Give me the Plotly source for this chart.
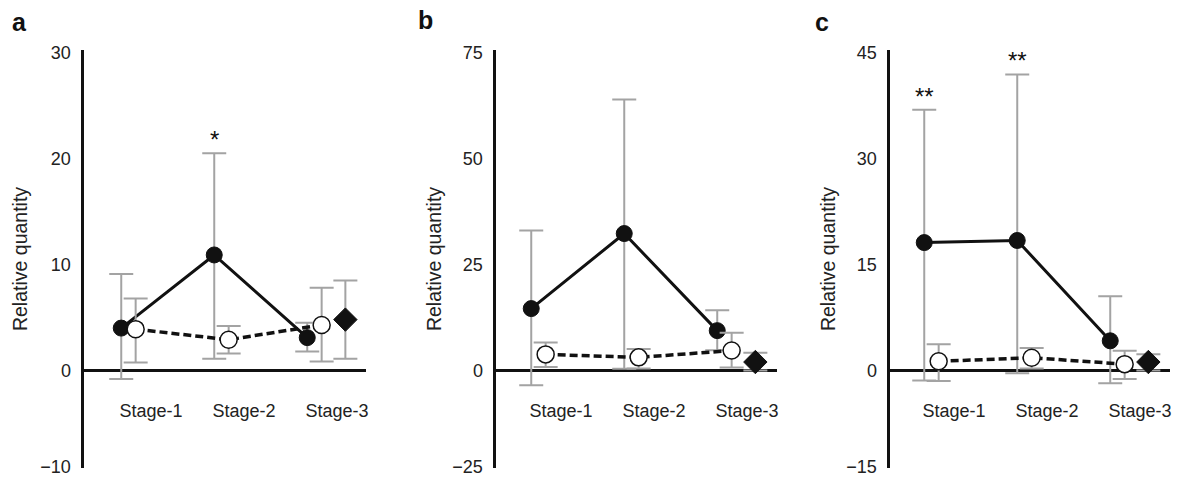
import plotly.graph_objects as go

# ---------------- data ----------------
stages = ["Stage-1", "Stage-2", "Stage-3"]

# panel a
a_filled = [4.0, 10.9, 3.1]
a_filled_hi = [9.1, 20.5, 4.5]
a_filled_lo = [-0.8, 1.1, 1.8]
a_open = [3.9, 2.9, 4.3]
a_open_hi = [6.8, 4.2, 7.8]
a_open_lo = [0.75, 1.6, 0.85]
a_diamond = [4.8]
a_diamond_hi = [8.5]
a_diamond_lo = [1.1]
a_ticks = ["−10", "0", "10", "20", "30"]
a_tickvals = [-10, 0, 10, 20, 30]
a_stars = ["", "*", ""]

# panel b
b_filled = [14.6, 32.3, 9.4]
b_filled_hi = [33.0, 63.9, 14.2]
b_filled_lo = [-3.5, 0.4, 4.8]
b_open = [3.8, 3.1, 4.7]
b_open_hi = [6.6, 5.1, 8.9]
b_open_lo = [0.8, 0.5, 0.7]
b_diamond = [2.0]
b_diamond_hi = [4.2]
b_diamond_lo = [0.0]
b_ticks = ["−25", "0", "25", "50", "75"]
b_tickvals = [-25, 0, 25, 50, 75]
b_stars = ["", "", ""]

# panel c
c_filled = [18.1, 18.4, 4.2]
c_filled_hi = [36.9, 41.9, 10.5]
c_filled_lo = [-1.4, -0.4, -1.8]
c_open = [1.3, 1.8, 0.9]
c_open_hi = [3.7, 3.2, 2.8]
c_open_lo = [-1.5, 0.3, -1.2]
c_diamond = [1.2]
c_diamond_hi = [2.3]
c_diamond_lo = [0.0]
c_ticks = ["−15", "0", "15", "30", "45"]
c_tickvals = [-15, 0, 15, 30, 45]
c_stars = ["**", "**", ""]

panel_letters = ["a", "b", "c"]

# ---------------- style / layout ----------------
FONT = "Liberation Sans, Arial, Helvetica, sans-serif"
W, H = 1180, 478
BLACK = "#111111"
GREY = "#a3a3a3"
FILLED_OFF, OPEN_OFF, DIAMOND_OFF = -0.32, -0.165, 0.09

# pixel geometry of each panel (left edge, right edge, px at x=1)
px_geo = [(83.5, 366, 151), (495.5, 777, 561), (889.5, 1170, 954)]
letter_px = [(19, 22), (425, 20), (822, 22)]
title_standoff = [8, 6, 6]
PX_PER_UNIT_X = 93.0
Y_TOP_PX, Y_BOT_PX, Y_ZERO_PX = 50, 468, 370.5
PX_PER_STEP = 106.0

panels = [
    dict(f=a_filled, fh=a_filled_hi, fl=a_filled_lo, o=a_open, oh=a_open_hi, ol=a_open_lo,
         d=a_diamond, dh=a_diamond_hi, dl=a_diamond_lo, tt=a_ticks, tv=a_tickvals, stars=a_stars),
    dict(f=b_filled, fh=b_filled_hi, fl=b_filled_lo, o=b_open, oh=b_open_hi, ol=b_open_lo,
         d=b_diamond, dh=b_diamond_hi, dl=b_diamond_lo, tt=b_ticks, tv=b_tickvals, stars=b_stars),
    dict(f=c_filled, fh=c_filled_hi, fl=c_filled_lo, o=c_open, oh=c_open_hi, ol=c_open_lo,
         d=c_diamond, dh=c_diamond_hi, dl=c_diamond_lo, tt=c_ticks, tv=c_tickvals, stars=c_stars),
]


def plus(v, hi):
    return [h - x for x, h in zip(v, hi)]


def minus(v, lo):
    return [x - l for x, l in zip(v, lo)]


fig = go.Figure()
annotations = []
idx = [1, 2, 3]
ydom = [(H - Y_BOT_PX) / H, (H - Y_TOP_PX) / H]

for k, p in enumerate(panels):
    s = "" if k == 0 else str(k + 1)
    xa, ya = "x" + s, "y" + s
    step = p["tv"][2] - p["tv"][1]
    upp = step / PX_PER_STEP  # units per pixel
    y_top = (Y_ZERO_PX - Y_TOP_PX) * upp
    y_bot = -(Y_BOT_PX - Y_ZERO_PX) * upp
    tickvals = [y_bot + 0.01 * step] + p["tv"][1:]

    left, right, x1 = px_geo[k]
    x_lo = 1 - (x1 - left) / PX_PER_UNIT_X
    x_hi = 1 + (right - x1) / PX_PER_UNIT_X

    xf = [i + FILLED_OFF for i in idx]
    xo = [i + OPEN_OFF for i in idx]
    xd = [3 + DIAMOND_OFF]

    fig.add_trace(go.Scatter(
        x=xf, y=p["f"], mode="lines+markers", xaxis=xa, yaxis=ya, showlegend=False,
        line=dict(color=BLACK, width=3),
        marker=dict(size=16, color=BLACK, line=dict(color=BLACK, width=1)),
        error_y=dict(type="data", symmetric=False, array=plus(p["f"], p["fh"]),
                     arrayminus=minus(p["f"], p["fl"]), color=GREY, thickness=2, width=12)))
    fig.add_trace(go.Scatter(
        x=xo, y=p["o"], mode="lines+markers", xaxis=xa, yaxis=ya, showlegend=False,
        line=dict(color=BLACK, width=3.5, dash="8px,4px"),
        marker=dict(size=17, color="white", line=dict(color=BLACK, width=1.5)),
        error_y=dict(type="data", symmetric=False, array=plus(p["o"], p["oh"]),
                     arrayminus=minus(p["o"], p["ol"]), color=GREY, thickness=2, width=12)))
    fig.add_trace(go.Scatter(
        x=xd, y=p["d"], mode="markers", xaxis=xa, yaxis=ya, showlegend=False,
        marker=dict(size=18, color=BLACK, symbol="diamond", line=dict(color=BLACK, width=1)),
        error_y=dict(type="data", symmetric=False, array=plus(p["d"], p["dh"]),
                     arrayminus=minus(p["d"], p["dl"]), color=GREY, thickness=2, width=12)))

    for i, st in enumerate(p["stars"]):
        if st:
            annotations.append(dict(x=xf[i], y=p["fh"][i], xref=xa, yref=ya, text=st,
                                    showarrow=False, yanchor="bottom", yshift=-2,
                                    font=dict(family=FONT, size=24, color=BLACK)))

    lx, ly = letter_px[k]
    annotations.append(dict(x=lx / W, y=(H - ly) / H, xref="paper", yref="paper",
                            text="<b>%s</b>" % panel_letters[k], showarrow=False,
                            xanchor="center", yanchor="middle",
                            font=dict(family=FONT, size=25, color=BLACK)))

    fig.layout["xaxis" + s] = dict(
        domain=[left / W, right / W], range=[x_lo, x_hi], anchor="free", position=(H - 398) / H,
        tickvals=idx, ticktext=stages, showgrid=False, zeroline=False, showline=False, ticks="",
        automargin=False, tickfont=dict(family=FONT, size=18, color="#222"))
    fig.layout["yaxis" + s] = dict(
        domain=ydom, range=[y_bot, y_top], anchor=xa, tickvals=tickvals, ticktext=p["tt"],
        showgrid=False, zeroline=True, zerolinecolor=BLACK, zerolinewidth=3,
        showline=True, linecolor=BLACK, linewidth=3, ticks="", ticklabelstandoff=6,
        ticklabeloverflow="allow",
        automargin=False, tickfont=dict(family=FONT, size=18, color="#222"),
        title=dict(text="Relative quantity", font=dict(family=FONT, size=19.5, color="#222"),
                   standoff=title_standoff[k]))

fig.update_layout(
    template="none",
    width=W, height=H, margin=dict(l=0, r=0, t=0, b=0, pad=0),
    paper_bgcolor="white", plot_bgcolor="white",
    annotations=annotations, font=dict(family=FONT))

fig.write_html("out.html", config={"displayModeBar": False},
               post_script="document.body.style.margin='0';document.body.style.overflow='hidden';")
